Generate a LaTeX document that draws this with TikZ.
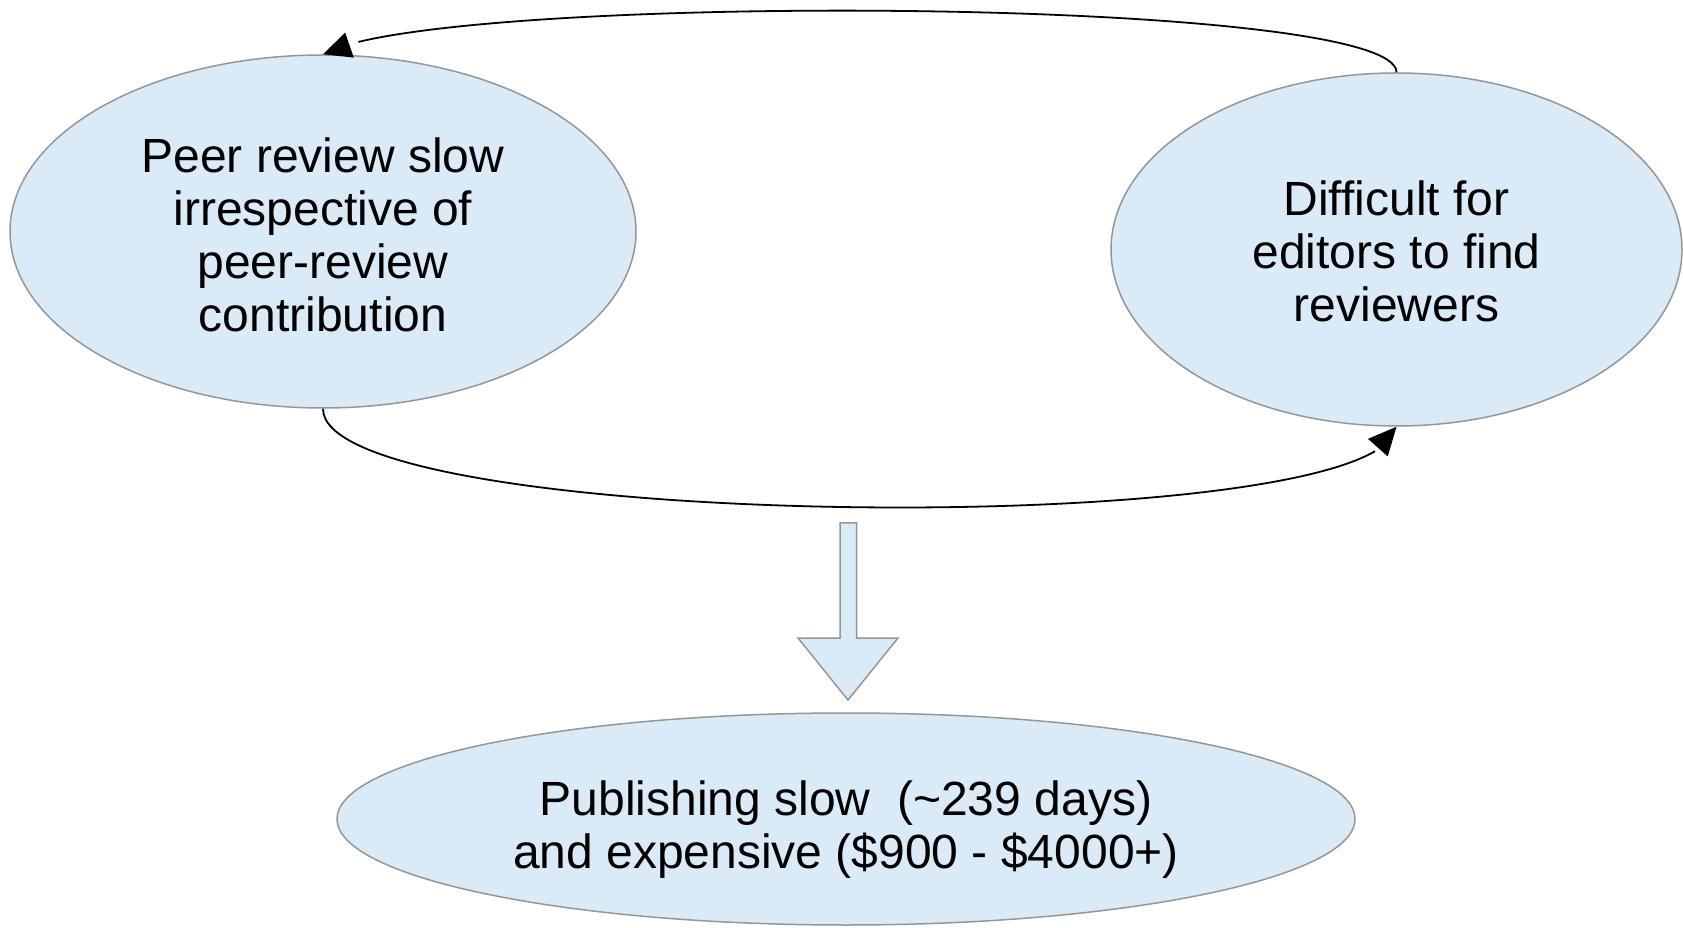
\documentclass[tikz,border=0pt]{standalone}
\usepackage{fontspec}
\setmainfont{Liberation Sans}
\usetikzlibrary{shapes.geometric,arrows.meta,bending}
\definecolor{bubblefill}{RGB}{218,234,247}
\definecolor{bubbleedge}{RGB}{150,150,150}
\begin{document}
\begin{tikzpicture}[x=1pt,y=1pt,
  bubble/.style={ellipse,draw=bubbleedge,fill=bubblefill,line width=1.5pt,inner sep=0pt},
  bubbletext/.style={inner sep=0pt,align=center,font=\fontsize{48}{53}\selectfont},
  loopline/.style={line width=1.8pt,-{Triangle[length=28pt,width=26pt]}}]
\useasboundingbox (0,0) rectangle (1683,927);
\node[bubble,minimum width=626,minimum height=353] (L) at (323,695.5) {};
\node[bubbletext] (Lt) at ([yshift=-3]L.center)
  {Peer review slow\\irrespective of\\peer-review\\contribution};
\node[bubble,minimum width=571,minimum height=353] (R) at (1396.5,677.5) {};
\node[bubbletext] (Rt) at ([yshift=-2]R.center)
  {Difficult for\\editors to find\\reviewers};
\node[bubble,minimum width=1018,minimum height=212] (B) at (846,108) {};
\node[bubbletext] (Bt) at ([yshift=-11]B.center)
  {Publishing slow\ \ (\textasciitilde239 days)\\and expensive (\$900 - \$4000+)};
\draw[loopline] (R.north) .. controls (1396,932) and (430,935) .. (L.north);
\draw[loopline] (L.south) .. controls (323,395) and (1380,385) .. (R.south);
\draw[draw=bubbleedge,fill=bubblefill,line width=1.5pt,line join=miter]
  (840,404) -- (856.5,404) -- (856.5,289) -- (898,289) -- (848,227) -- (798,289) -- (840,289) -- cycle;
\end{tikzpicture}
\end{document}
